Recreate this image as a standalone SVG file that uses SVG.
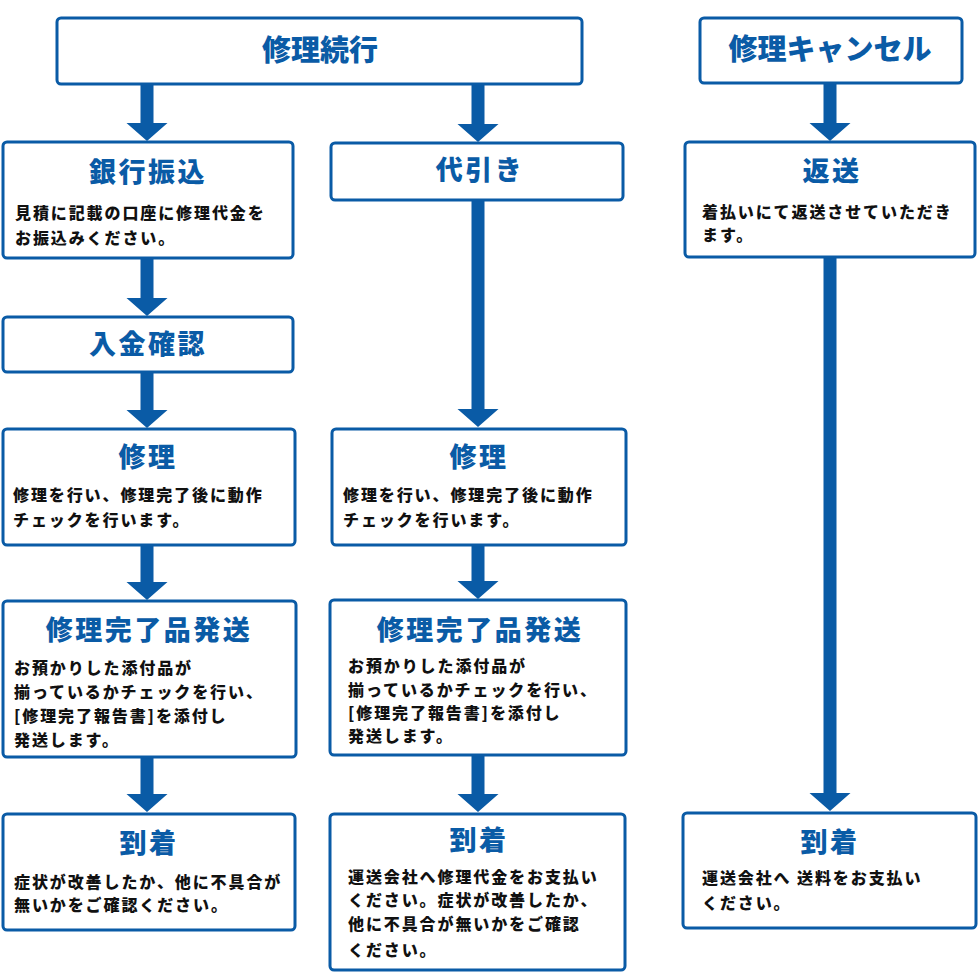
<svg xmlns="http://www.w3.org/2000/svg" width="980" height="980" viewBox="0 0 980 980">
<style>
.box{fill:#fff;stroke:#0a5ba6;stroke-width:3}
.hd{font-family:"Noto Sans CJK JP","Noto Sans",sans-serif;font-weight:900;font-size:29px;fill:#0a5ba6;text-anchor:middle}
.tt{font-family:"Noto Sans CJK JP","Noto Sans",sans-serif;font-weight:900;font-size:27px;fill:#0a5ba6;text-anchor:middle;letter-spacing:2.5px}
.bd{font-family:"Noto Sans CJK JP","Noto Sans",sans-serif;font-weight:900;font-size:16px;fill:#111;letter-spacing:1.9px}
.ar{fill:#0a5ba6}
</style>
<rect width="980" height="980" fill="#fff"/>
<g id="connectors">
<path class="ar" d="M140.5 85h13v38h14l-20.5 18l-20.5 -18h14z"/>
<path class="ar" d="M471.5 85h13v39h14l-20.5 18l-20.5 -18h14z"/>
<path class="ar" d="M823.5 83h13v40h14l-20.5 18l-20.5 -18h14z"/>
<path class="ar" d="M140.5 258h13v40h14l-20.5 18l-20.5 -18h14z"/>
<path class="ar" d="M140.5 372h13v38h14l-20.5 18l-20.5 -18h14z"/>
<path class="ar" d="M471.5 200h13v209h14l-20.5 18l-20.5 -18h14z"/>
<path class="ar" d="M823.5 257h13v536h14l-20.5 18l-20.5 -18h14z"/>
<path class="ar" d="M140.5 545h13v37h14l-20.5 18l-20.5 -18h14z"/>
<path class="ar" d="M471.5 545h13v36h14l-20.5 18l-20.5 -18h14z"/>
<path class="ar" d="M140.5 757h13v37h14l-20.5 18l-20.5 -18h14z"/>
<path class="ar" d="M471.5 755h13v39h14l-20.5 18l-20.5 -18h14z"/>
</g>
<g id="n-continue">
<rect class="box" x="57" y="18" width="525" height="66" rx="4"/>
<text class="hd" x="320" y="61">修理続行</text>
</g>
<g id="n-cancel">
<rect class="box" x="700" y="18" width="262" height="65" rx="4"/>
<text class="hd" x="830" y="60">修理キャンセル</text>
</g>
<g id="n-bank">
<rect class="box" x="3" y="142" width="290" height="116" rx="4"/>
<text class="tt" x="148" y="182">銀行振込</text>
<text class="bd" x="15" y="219">見積に記載の口座に修理代金を</text>
<text class="bd" x="15" y="244">お振込みください。</text>
</g>
<g id="n-cod">
<rect class="box" x="331" y="143" width="292" height="57" rx="4"/>
<text class="tt" x="480" y="180">代引き</text>
</g>
<g id="n-return">
<rect class="box" x="685" y="142" width="290" height="115" rx="4"/>
<text class="tt" x="832" y="181">返送</text>
<text class="bd" x="702" y="218">着払いにて返送させていただき</text>
<text class="bd" x="702" y="241">ます。</text>
</g>
<g id="n-deposit">
<rect class="box" x="3" y="317" width="290" height="55" rx="4"/>
<text class="tt" x="148" y="354">入金確認</text>
</g>
<g id="n-repair-l">
<rect class="box" x="3" y="429" width="292" height="116" rx="4"/>
<text class="tt" x="148" y="467">修理</text>
<text class="bd" x="13" y="501">修理を行い、修理完了後に動作</text>
<text class="bd" x="13" y="526">チェックを行います。</text>
</g>
<g id="n-repair-m">
<rect class="box" x="332" y="429" width="294" height="116" rx="4"/>
<text class="tt" x="479" y="467">修理</text>
<text class="bd" x="343" y="501">修理を行い、修理完了後に動作</text>
<text class="bd" x="343" y="526">チェックを行います。</text>
</g>
<g id="n-ship-l">
<rect class="box" x="3" y="601" width="293" height="156" rx="4"/>
<text class="tt" x="149" y="640">修理完了品発送</text>
<text class="bd" x="14" y="674">お預かりした添付品が</text>
<text class="bd" x="14" y="698">揃っているかチェックを行い、</text>
<text class="bd" x="14" y="722">[修理完了報告書]を添付し</text>
<text class="bd" x="14" y="746">発送します。</text>
</g>
<g id="n-ship-m">
<rect class="box" x="330" y="600" width="296" height="155" rx="4"/>
<text class="tt" x="480" y="640">修理完了品発送</text>
<text class="bd" x="348" y="672">お預かりした添付品が</text>
<text class="bd" x="348" y="696">揃っているかチェックを行い、</text>
<text class="bd" x="348" y="719">[修理完了報告書]を添付し</text>
<text class="bd" x="348" y="742">発送します。</text>
</g>
<g id="n-arrive-l">
<rect class="box" x="3" y="814" width="292" height="116" rx="4"/>
<text class="tt" x="149" y="853">到着</text>
<text class="bd" x="14" y="888">症状が改善したか、他に不具合が</text>
<text class="bd" x="14" y="911">無いかをご確認ください。</text>
</g>
<g id="n-arrive-m">
<rect class="box" x="330" y="814" width="295" height="156" rx="4"/>
<text class="tt" x="479" y="850">到着</text>
<text class="bd" x="348" y="883">運送会社へ修理代金をお支払い</text>
<text class="bd" x="348" y="906">ください。症状が改善したか、</text>
<text class="bd" x="348" y="930">他に不具合が無いかをご確認</text>
<text class="bd" x="348" y="956">ください。</text>
</g>
<g id="n-arrive-r">
<rect class="box" x="683" y="813" width="293" height="115" rx="4"/>
<text class="tt" x="830" y="852">到着</text>
<text class="bd" x="702" y="884">運送会社へ 送料をお支払い</text>
<text class="bd" x="702" y="909">ください。</text>
</g>
</svg>
